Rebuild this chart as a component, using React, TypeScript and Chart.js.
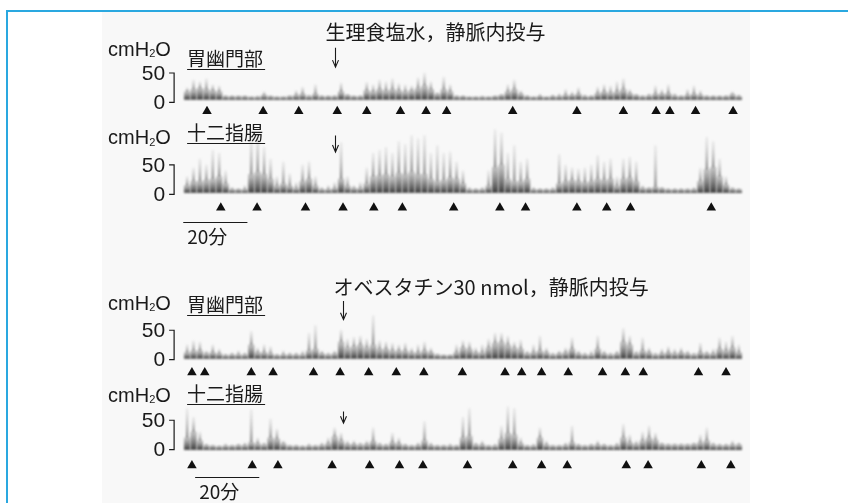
import React, { useEffect, useRef } from "react";
import { Chart, registerables } from "chart.js";

Chart.register(...registerables);

// ---- data (minutes, cmH2O) ----
const timeMin = [
  0, 2, 4, 6, 8, 10, 12, 14, 16, 18, 20, 22, 24, 26, 28, 30, 32, 34, 36, 38,
  40, 42, 44, 46, 48, 50, 52, 54, 56, 58, 60, 62, 64, 66, 68, 70, 72, 74, 76, 78,
  80, 82, 84, 86, 88, 90, 92, 94, 96, 98, 100, 102, 104, 106, 108, 110, 112, 114, 116, 118,
  120, 122, 124, 126, 128, 130, 132, 134, 136, 138, 140, 142, 144, 146, 148, 150, 152, 154, 156, 158,
  160, 162, 164, 166, 168, 170, 172,
];

// resting pressure of each recording
const pylorusSalineBaseline = 5;
const duodenumSalineBaseline = 3;
const pylorusObestatinBaseline = 2;
const duodenumObestatinBaseline = 0;

const pylorusSalinePeak = [
  25, 38, 35, 40, 30, 28, 12, 11, 11, 11,
  10, 11, 18, 11, 10, 10, 12, 20, 26, 13,
  30, 12, 11, 12, 33, 14, 11, 12, 34, 30,
  38, 35, 40, 32, 30, 28, 42, 50, 35, 17,
  43, 30, 12, 11, 10, 10, 11, 10, 11, 14,
  30, 38, 20, 12, 10, 14, 10, 13, 15, 22,
  18, 25, 13, 12, 26, 30, 28, 35, 40, 22,
  14, 12, 15, 28, 22, 30, 15, 12, 22, 28,
  20, 12, 11, 11, 12, 18, 13,
];
const pylorusSalineCore = [
  18, 22, 24, 22, 20, 18, 10, 10, 10, 10,
  9, 9, 12, 10, 9, 9, 10, 12, 14, 10,
  14, 10, 10, 10, 18, 12, 10, 10, 20, 18,
  22, 20, 22, 20, 18, 20, 24, 28, 22, 14,
  22, 18, 10, 10, 9, 9, 9, 9, 10, 12,
  18, 22, 14, 10, 9, 10, 9, 10, 10, 12,
  12, 14, 10, 10, 15, 18, 16, 18, 22, 15,
  12, 10, 11, 14, 14, 15, 11, 10, 12, 14,
  12, 10, 10, 10, 10, 13, 10,
];
const duodenumSalinePeak = [
  30, 45, 60, 50, 75, 70, 40, 12, 10, 15,
  95, 100, 80, 60, 30, 55, 35, 20, 50, 55,
  30, 12, 15, 20, 88, 30, 15, 20, 45, 70,
  75, 80, 70, 90, 85, 100, 95, 100, 70, 83,
  70, 72, 55, 40, 12, 10, 12, 40, 110, 105,
  70, 83, 55, 60, 12, 10, 10, 12, 68, 50,
  45, 43, 45, 50, 66, 55, 60, 30, 60, 63,
  55, 15, 12, 83, 12, 10, 10, 10, 10, 12,
  45, 97, 90, 60, 30, 12, 10,
];
const duodenumSalineCore = [
  15, 22, 22, 24, 26, 30, 18, 8, 8, 8,
  34, 38, 34, 26, 14, 18, 14, 10, 22, 26,
  14, 8, 8, 10, 26, 14, 10, 10, 18, 30,
  32, 34, 30, 36, 34, 38, 34, 34, 26, 22,
  24, 28, 26, 18, 8, 8, 8, 14, 46, 50,
  26, 22, 22, 26, 8, 8, 8, 8, 18, 22,
  24, 22, 20, 22, 26, 24, 26, 14, 26, 28,
  22, 10, 10, 12, 10, 8, 8, 8, 8, 8,
  22, 42, 46, 30, 16, 9, 8,
];
const pylorusObestatinPeak = [
  25, 32, 30, 15, 25, 18, 10, 12, 15, 12,
  48, 20, 25, 22, 10, 15, 12, 12, 15, 45,
  58, 15, 12, 15, 50, 35, 38, 40, 35, 75,
  32, 30, 28, 25, 28, 20, 25, 30, 20, 10,
  8, 8, 25, 32, 30, 20, 25, 35, 45, 45,
  40, 30, 33, 15, 25, 40, 20, 12, 15, 20,
  37, 15, 12, 15, 40, 15, 12, 15, 53, 40,
  15, 37, 20, 12, 18, 22, 18, 20, 15, 12,
  28, 15, 18, 37, 30, 40, 25,
];
const pylorusObestatinCore = [
  12, 15, 15, 10, 12, 10, 7, 8, 8, 8,
  25, 12, 12, 10, 7, 8, 8, 8, 8, 15,
  18, 10, 8, 10, 30, 20, 22, 25, 20, 25,
  18, 18, 15, 15, 15, 12, 12, 15, 12, 8,
  7, 7, 12, 20, 18, 12, 12, 20, 28, 30,
  25, 20, 18, 10, 12, 15, 12, 8, 10, 12,
  18, 10, 8, 8, 18, 10, 8, 10, 30, 25,
  10, 15, 12, 8, 10, 12, 10, 12, 10, 8,
  12, 10, 10, 18, 15, 20, 12,
];
const duodenumObestatinPeak = [
  70, 55, 30, 10, 8, 7, 10, 8, 10, 12,
  68, 20, 12, 52, 35, 15, 8, 8, 7, 10,
  8, 12, 20, 37, 28, 15, 15, 12, 15, 37,
  12, 10, 28, 20, 10, 8, 12, 48, 12, 8,
  8, 10, 8, 55, 70, 12, 15, 8, 10, 40,
  73, 70, 20, 8, 10, 37, 15, 8, 8, 12,
  40, 10, 8, 10, 15, 10, 8, 12, 43, 25,
  15, 30, 40, 28, 12, 10, 10, 10, 10, 12,
  25, 37, 12, 10, 10, 15, 12,
];
const duodenumObestatinCore = [
  20, 30, 15, 7, 6, 5, 6, 6, 7, 7,
  12, 10, 8, 20, 18, 10, 6, 6, 5, 6,
  6, 7, 10, 22, 15, 9, 9, 8, 9, 14,
  8, 7, 12, 10, 7, 6, 7, 15, 7, 6,
  6, 6, 6, 20, 23, 8, 8, 6, 6, 18,
  28, 25, 10, 6, 6, 20, 8, 6, 6, 7,
  12, 7, 6, 7, 8, 7, 6, 7, 20, 12,
  9, 15, 20, 16, 9, 8, 8, 8, 8, 9,
  12, 15, 8, 7, 7, 8, 8,
];

// contraction markers (minutes)
const pylorusSalineMarks = [6.2, 23.7, 34.8, 46.8, 56.0, 66.5, 74.5, 80.9, 101.5, 121.5, 136.0, 146.2, 150.5, 158.5, 170.2];
const duodenumSalineMarks = [10.5, 21.8, 36.9, 48.6, 58.2, 67.1, 83.1, 97.5, 105.5, 121.5, 130.8, 138.2, 163.4];
const pylorusObestatinMarks = [1.5, 5.5, 20.0, 26.8, 39.4, 47.7, 56.6, 65.2, 73.8, 85.8, 99.1, 104.3, 110.5, 118.8, 129.5, 136.6, 142.2, 159.4, 168.0];
const duodenumObestatinMarks = [1.5, 20.3, 28.3, 45.2, 56.9, 66.2, 73.5, 87.4, 101.5, 110.5, 118.5, 136.9, 143.7, 160.3, 169.5];

const injectionSaline = 46.2;
const injectionObestatin = 48.6;
const scaleBarMinutes = 20;

const titleSaline = "生理食塩水，静脈内投与";
const titleObestatin = "オベスタチン30 nmol，静脈内投与";
const namePylorus = "胃幽門部";
const nameDuodenum = "十二指腸";
const unitLabel = ["cmH", "2", "O"];
const tickLabels = ["50", "0"];
const scaleBarLabel = "20分";

// ---- layout ----
const W = 848;
const H = 503;
const PX_PER_UNIT = 0.6;
const PX_PER_MIN = 3.25;
const TRACE_LEFT = 184;
const X_MIN = -TRACE_LEFT / PX_PER_MIN;
const X_MAX = (W - TRACE_LEFT) / PX_PER_MIN;

const JP = '"Noto Sans CJK JP", "Noto Sans", sans-serif';
const LAT = '"Liberation Sans", Arial, sans-serif';

type Trace = {
  axis: string;
  zeroPx: number;
  name: string;
  base: number;
  peak: number[];
  core: number[];
  marks: number[];
  markLevel: number;
  inj: number;
  arrow: [number, number];
  unitDy: number;
  nameDy: number;
  title?: { text: string; value: number };
  bar?: { start: number; value: number };
};

const traces: Trace[] = [
  {
    axis: "y1", zeroPx: 99, name: namePylorus, base: pylorusSalineBaseline,
    peak: pylorusSalinePeak, core: pylorusSalineCore, marks: pylorusSalineMarks, markLevel: -15,
    inj: injectionSaline, arrow: [93, 60], unitDy: -23, nameDy: -14,
    title: { text: titleSaline, value: 119 },
  },
  {
    axis: "y2", zeroPx: 193, name: nameDuodenum, base: duodenumSalineBaseline,
    peak: duodenumSalinePeak, core: duodenumSalineCore, marks: duodenumSalineMarks, markLevel: -23,
    inj: injectionSaline, arrow: [100, 72], unitDy: -26, nameDy: -32,
    bar: { start: -1.2, value: -48 },
  },
  {
    axis: "y3", zeroPx: 362, name: namePylorus, base: pylorusObestatinBaseline,
    peak: pylorusObestatinPeak, core: pylorusObestatinCore, marks: pylorusObestatinMarks, markLevel: -22,
    inj: injectionObestatin, arrow: [100, 68], unitDy: -26, nameDy: -25,
    title: { text: titleObestatin, value: 123 },
  },
  {
    axis: "y4", zeroPx: 454, name: nameDuodenum, base: duodenumObestatinBaseline,
    peak: duodenumObestatinPeak, core: duodenumObestatinCore, marks: duodenumObestatinMarks, markLevel: -27,
    inj: injectionObestatin, arrow: [65, 45], unitDy: -24, nameDy: -26,
    bar: { start: 2.5, value: -47 },
  },
];

function drawUnit(c: CanvasRenderingContext2D, x: number, y: number) {
  c.textAlign = "left";
  c.textBaseline = "middle";
  c.font = `20px ${LAT}`;
  c.fillText(unitLabel[0], x, y);
  let w = c.measureText(unitLabel[0]).width;
  c.font = `11px ${LAT}`;
  c.fillText(unitLabel[1], x + w, y + 4);
  w += c.measureText(unitLabel[1]).width;
  c.font = `20px ${LAT}`;
  c.fillText(unitLabel[2], x + w, y);
}

function pix(scale: any, v: number): number | null {
  if (!scale) return null;
  const p = scale.getPixelForValue(v);
  return Number.isFinite(p) ? p : null;
}

const BLUR = "blur(1px)";

const decor = {
  id: "decor",
  beforeDraw(chart: any) {
    const c: CanvasRenderingContext2D = chart.ctx;
    c.save();
    c.fillStyle = "#ffffff";
    c.fillRect(0, 0, chart.width, chart.height);
    c.fillStyle = "#f8f8f8";
    c.fillRect(102, 12, 750 - 102, chart.height - 12);
    c.fillStyle = "#2aa8e0";
    c.fillRect(6, 10, chart.width - 6, 2);
    c.fillRect(6, 10, 2, chart.height - 10);
    c.restore();
    c.filter = BLUR;
  },
  beforeDatasetDraw(chart: any, args: any) {
    if (args.meta.type === "scatter") chart.ctx.filter = "none";
  },
  afterDatasetDraw(chart: any, args: any) {
    if (args.meta.type === "scatter") chart.ctx.filter = BLUR;
  },
  afterDatasetsDraw(chart: any) {
    chart.ctx.filter = "none";
  },
  afterDraw(chart: any) {
    const c: CanvasRenderingContext2D = chart.ctx;
    const xs = chart.scales.x;
    c.save();
    c.filter = "none";
    c.fillStyle = "#1a1a1a";
    c.strokeStyle = "#1a1a1a";
    for (const t of traces) {
      const ys = chart.scales[t.axis];
      const x0 = xs.getPixelForValue(0);
      const y0 = ys.getPixelForValue(0);
      const y50 = ys.getPixelForValue(50);
      // bracket
      const bx = x0 - 13;
      c.lineWidth = 1.2;
      c.beginPath();
      c.moveTo(bx - 5, y50);
      c.lineTo(bx, y50);
      c.lineTo(bx, y0);
      c.lineTo(bx - 5, y0);
      c.stroke();
      c.font = `21px ${LAT}`;
      c.textAlign = "right";
      c.textBaseline = "middle";
      c.fillText(tickLabels[0], bx - 9, y50 + 1);
      c.fillText(tickLabels[1], bx - 9, y0 + 1);
      // unit
      drawUnit(c, x0 - 79, y50 + t.unitDy);
      // name
      c.font = `19px ${JP}`;
      c.textAlign = "left";
      c.textBaseline = "middle";
      const ny = y50 + t.nameDy;
      c.fillText(t.name, x0, ny);
      const nw = c.measureText(t.name).width;
      c.lineWidth = 1;
      c.beginPath();
      c.moveTo(x0, Math.round(ny + 10) + 0.5);
      c.lineTo(x0 + nw + 2, Math.round(ny + 10) + 0.5);
      c.stroke();
      // arrow
      const ax = Math.round(xs.getPixelForValue(t.inj)) + 0.5;
      const aTop = ys.getPixelForValue(t.arrow[0]);
      const aBot = ys.getPixelForValue(t.arrow[1]);
      c.lineWidth = 1.1;
      c.beginPath();
      c.moveTo(ax, aTop);
      c.lineTo(ax, aBot);
      c.moveTo(ax - 3, aBot - 7);
      c.lineTo(ax, aBot);
      c.lineTo(ax + 3, aBot - 7);
      c.stroke();
      // title
      if (t.title) {
        c.font = `20px ${JP}`;
        c.textAlign = "left";
        c.fillText(t.title.text, ax - 10, ys.getPixelForValue(t.title.value));
      }
      // scale bar
      if (t.bar) {
        const bx1 = xs.getPixelForValue(t.bar.start);
        const bx2 = xs.getPixelForValue(t.bar.start + scaleBarMinutes);
        const by = Math.round(ys.getPixelForValue(t.bar.value)) + 0.5;
        c.lineWidth = 1;
        c.beginPath();
        c.moveTo(bx1, by);
        c.lineTo(bx2, by);
        c.stroke();
        c.font = `19px ${JP}`;
        c.textAlign = "left";
        c.fillText(scaleBarLabel, bx1 + 4, by + 14);
      }
    }
    c.restore();
  },
};

function gradientFill(ctx: any, axis: string, lo: number, hi: number, c0: string, c1: string, fallback: string) {
  const ys = ctx.chart.scales[axis];
  const a = pix(ys, lo);
  const b = pix(ys, hi);
  if (a === null || b === null || Math.abs(a - b) < 0.5) return fallback;
  const g = ctx.chart.ctx.createLinearGradient(0, a, 0, b);
  g.addColorStop(0, c0);
  g.addColorStop(1, c1);
  return g;
}

function buildDatasets() {
  const ds: any[] = [];
  traces.forEach((t) => {
    // faint spikes above the contraction core
    ds.push({
      type: "bar",
      yAxisID: t.axis,
      order: 3,
      grouped: false,
      barThickness: 1.6,
      borderWidth: 0,
      data: timeMin.map((m, i) => ({ x: m, y: [t.core[i], t.peak[i]] })),
      backgroundColor: (ctx: any) => {
        const raw = ctx.raw;
        if (!raw || !Array.isArray(raw.y)) return "rgba(110,110,110,0.4)";
        return gradientFill(ctx, t.axis, raw.y[0], raw.y[1], "rgba(70,70,70,0.65)", "rgba(150,150,150,0.15)", "rgba(110,110,110,0.4)");
      },
    });
    // dense contraction core from the resting line
    ds.push({
      type: "bar",
      yAxisID: t.axis,
      order: 2,
      grouped: false,
      barThickness: 5.5,
      borderWidth: 0,
      data: timeMin.map((m, i) => ({ x: m, y: [t.base, t.core[i]] })),
      backgroundColor: (ctx: any) => {
        const raw = ctx.raw;
        if (!raw || !Array.isArray(raw.y)) return "rgba(60,60,60,0.7)";
        return gradientFill(ctx, t.axis, raw.y[0], raw.y[1], "rgba(40,40,40,0.9)", "rgba(100,100,100,0.35)", "rgba(60,60,60,0.8)");
      },
    });
    ds.push({
      type: "scatter",
      yAxisID: t.axis,
      order: 1,
      data: t.marks.map((m) => ({ x: m, y: t.markLevel })),
      pointStyle: "triangle",
      pointRadius: 5.5,
      pointBackgroundColor: "#111",
      pointBorderWidth: 0,
      showLine: false,
    });
  });
  return ds;
}

function buildScales() {
  const scales: any = {
    x: { type: "linear", min: X_MIN, max: X_MAX, display: false, offset: false },
  };
  traces.forEach((t) => {
    const max = t.zeroPx / PX_PER_UNIT;
    scales[t.axis] = {
      type: "linear",
      display: false,
      min: max - H / PX_PER_UNIT,
      max,
    };
  });
  return scales;
}

export default function App() {
  const ref = useRef<HTMLCanvasElement | null>(null);
  useEffect(() => {
    if (!ref.current) return;
    const chart = new Chart(ref.current, {
      type: "bar",
      data: { datasets: buildDatasets() },
      options: {
        responsive: false,
        animation: false,
        devicePixelRatio: 1,
        events: [],
        layout: { padding: 0 },
        plugins: { legend: { display: false }, tooltip: { enabled: false } },
        scales: buildScales(),
      } as any,
      plugins: [decor],
    });
    let alive = true;
    (document as any).fonts?.ready?.then(() => {
      if (alive) chart.update();
    });
    return () => {
      alive = false;
      chart.destroy();
    };
  }, []);
  return (
    <div style={{ position: "fixed", left: 0, top: 0, width: W, height: H, background: "#fff" }}>
      <canvas ref={ref} width={W} height={H} style={{ width: W, height: H, display: "block" }} />
    </div>
  );
}
